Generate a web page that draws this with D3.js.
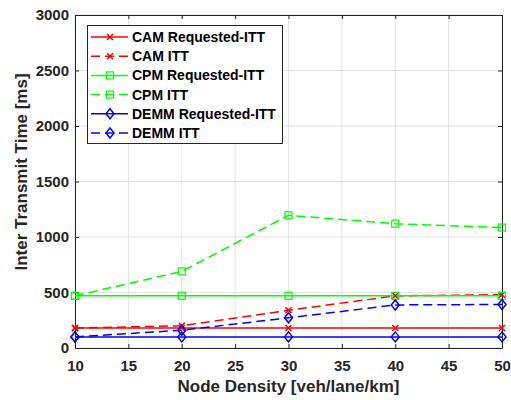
<!DOCTYPE html>
<html><head><meta charset="utf-8">
<script src="https://cdn.jsdelivr.net/npm/d3@7"></script>
<style>body{margin:0;background:#fff}svg{display:block}</style>
</head><body>
<svg id="c" width="511" height="400"></svg>
<script>
const density = [10, 20, 30, 40, 50];
const camRequested = [180, 180, 180, 180, 180];
const camITT = [180, 200, 340, 470, 480];
const cpmRequested = [470, 470, 470, 470, 470];
const cpmITT = [470, 690, 1195, 1120, 1085];
const demmRequested = [100, 100, 100, 100, 100];
const demmITT = [100, 160, 272, 388, 392];
const xTicks = [10, 15, 20, 25, 30, 35, 40, 45, 50];
const yTicks = [0, 500, 1000, 1500, 2000, 2500, 3000];
const seriesNames = ["CAM Requested-ITT", "CAM ITT", "CPM Requested-ITT", "CPM ITT", "DEMM Requested-ITT", "DEMM ITT"];

const series = [
  {name: seriesNames[0], values: camRequested, color: "#ff0000", dash: null, marker: "x"},
  {name: seriesNames[1], values: camITT, color: "#ff0000", dash: "9,5", marker: "x"},
  {name: seriesNames[2], values: cpmRequested, color: "#00ff00", dash: null, marker: "s"},
  {name: seriesNames[3], values: cpmITT, color: "#00ff00", dash: "9,5", marker: "s"},
  {name: seriesNames[4], values: demmRequested, color: "#0000ff", dash: null, marker: "d"},
  {name: seriesNames[5], values: demmITT, color: "#0000ff", dash: "9,5", marker: "d"}
];

const L = 75, R = 502, T = 15, B = 348;
const svg = d3.select("#c");
const x = d3.scaleLinear().domain([10, 50]).range([L, R]);
const y = d3.scaleLinear().domain([0, 3000]).range([B, T]);
const axisColor = "#262626";
const font = "Liberation Sans, Arial, sans-serif";

// grid
const g = svg.append("g");
g.selectAll(".gx").data(xTicks).enter().append("line")
  .attr("x1", d => x(d)).attr("x2", d => x(d)).attr("y1", T).attr("y2", B)
  .attr("stroke", "#e3e3e3").attr("stroke-width", 1);
g.selectAll(".gy").data(yTicks).enter().append("line")
  .attr("y1", d => y(d)).attr("y2", d => y(d)).attr("x1", L).attr("x2", R)
  .attr("stroke", "#e3e3e3").attr("stroke-width", 1);

// axes
function styleAxis(sel) {
  sel.selectAll("path").attr("stroke", axisColor);
  sel.selectAll("line").attr("stroke", axisColor);
  sel.selectAll("text").attr("fill", axisColor).style("font-family", font)
    .style("font-size", "15px").style("font-weight", "bold");
}
const xa = svg.append("g").attr("transform", `translate(0,${B})`)
  .call(d3.axisBottom(x).tickValues(xTicks).tickSizeInner(-4).tickSizeOuter(0).tickPadding(12).tickFormat(d3.format("d")));
styleAxis(xa);
const xt = svg.append("g").attr("transform", `translate(0,${T})`)
  .call(d3.axisTop(x).tickValues(xTicks).tickSizeInner(-4).tickSizeOuter(0).tickFormat(""));
styleAxis(xt);
const ya = svg.append("g").attr("transform", `translate(${L},0)`)
  .call(d3.axisLeft(y).tickValues(yTicks).tickSizeInner(-4).tickSizeOuter(0).tickPadding(6).tickFormat(d3.format("d")));
styleAxis(ya);
const yr = svg.append("g").attr("transform", `translate(${R},0)`)
  .call(d3.axisRight(y).tickValues(yTicks).tickSizeInner(-4).tickSizeOuter(0).tickFormat(""));
styleAxis(yr);

// markers
function drawMarker(sel, type, color) {
  if (type === "x") {
    sel.append("path").attr("d", "M-3,-3L3,3M-3,3L3,-3").attr("stroke", color).attr("stroke-width", 1.5).attr("fill", "none");
  } else if (type === "s") {
    sel.append("rect").attr("x", -3.5).attr("y", -3.5).attr("width", 7).attr("height", 7)
      .attr("stroke", color).attr("stroke-width", 1.2).attr("fill", "none");
  } else {
    sel.append("path").attr("d", "M0,-5L4,0L0,5L-4,0Z").attr("stroke", color).attr("stroke-width", 1.5).attr("fill", "none");
  }
}

const line = d3.line().x((d, i) => x(density[i])).y(d => y(d));
series.forEach(s => {
  svg.append("path").datum(s.values).attr("d", line)
    .attr("fill", "none").attr("stroke", s.color).attr("stroke-width", 1.5)
    .attr("stroke-dasharray", s.dash);
});
series.forEach(s => {
  s.values.forEach((v, i) => {
    const m = svg.append("g").attr("transform", `translate(${x(density[i])},${y(v)})`);
    drawMarker(m, s.marker, s.color);
  });
});

// legend
const lg = svg.append("g");
lg.append("rect").attr("x", 87.5).attr("y", 25.5).attr("width", 195).attr("height", 118)
  .attr("fill", "#fff").attr("stroke", axisColor).attr("stroke-width", 1);
series.forEach((s, i) => {
  const yy = 37 + i * 19.2;
  lg.append("line").attr("x1", 91).attr("x2", 128).attr("y1", yy).attr("y2", yy)
    .attr("stroke", s.color).attr("stroke-width", 1.5).attr("stroke-dasharray", s.dash);
  const m = lg.append("g").attr("transform", `translate(110,${yy})`);
  drawMarker(m, s.marker, s.color);
  lg.append("text").attr("x", 132).attr("y", yy).attr("dy", "0.36em")
    .style("font-family", font).style("font-size", "14px").style("font-weight", "bold")
    .attr("fill", "#000").text(s.name);
});

// axis labels
svg.append("text").attr("x", (L + R) / 2).attr("y", 392).attr("text-anchor", "middle")
  .style("font-family", font).style("font-size", "17px").style("font-weight", "bold")
  .attr("fill", axisColor).text("Node Density [veh/lane/km]");
svg.append("text").attr("transform", `translate(27,172) rotate(-90)`).attr("text-anchor", "middle")
  .style("font-family", font).style("font-size", "17px").style("font-weight", "bold")
  .attr("fill", axisColor).text("Inter Transmit Time [ms]");
</script>
</body></html>
